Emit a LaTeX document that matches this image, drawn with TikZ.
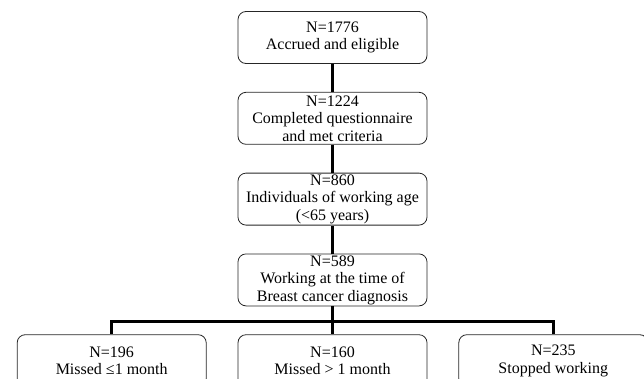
\documentclass[tikz,border=0pt]{standalone}
\usepackage{fontspec}
\setmainfont{Liberation Serif}
\usetikzlibrary{positioning}

\begin{document}
\begin{tikzpicture}[
    stage/.style={draw=black!85, line width=0.8pt, rounded corners=8pt,
        minimum width=189pt, minimum height=52pt, inner sep=1pt,
        align=center, font=\fontsize{16}{17.5}\selectfont},
    link/.style={line width=2.6pt},
    node distance=28pt and 31pt
]
\useasboundingbox (0,0) rectangle (644pt,-378pt);
\clip (0,0) rectangle (644pt,-378pt);

\node[stage] (accrued) at (332.5pt,-37.5pt) {N=1776\\Accrued and eligible};
\node[stage, below=of accrued] (completed) {N=1224\\Completed questionnaire\\and met criteria};
\node[stage, below=of completed] (workage) {N=860\\Individuals of working age\\(<65 years)};
\node[stage, below=of workage] (working) {N=589\\Working at the time of\\Breast cancer diagnosis};
\node[stage, below=of working] (missedmore) {N=160\\Missed > 1 month};
\node[stage, left=of missedmore] (missedless) {N=196\\Missed ≤1 month};
\node[stage, right=of missedmore] (stopped) {N=235\\Stopped working};

\coordinate[below=15pt of working.south] (split);

\draw[link] (accrued) -- (completed);
\draw[link] (completed) -- (workage);
\draw[link] (workage) -- (working);
\draw[link] (working) -- (missedmore);
\draw[link] (split) -| (missedless.north);
\draw[link] (split) -| (stopped.north);
\end{tikzpicture}
\end{document}
